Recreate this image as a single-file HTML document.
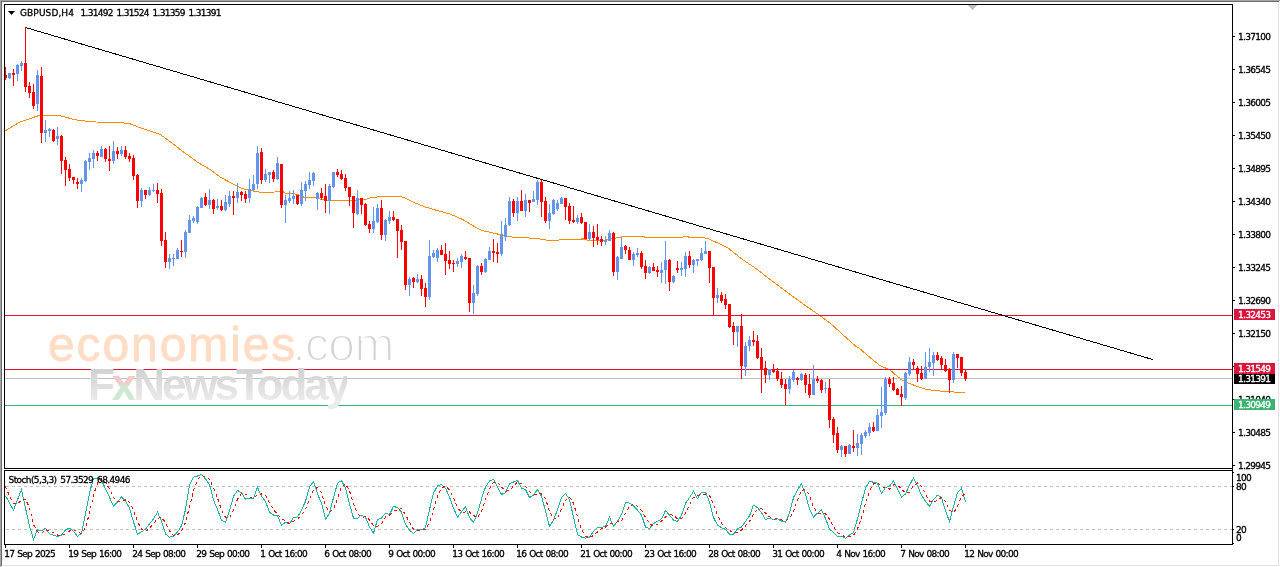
<!DOCTYPE html><html><head><meta charset="utf-8"><title>GBPUSD,H4</title><style>
html,body{margin:0;padding:0;background:#fff}
body{width:1280px;height:567px;position:relative;overflow:hidden;font-family:"DejaVu Sans","Liberation Sans",sans-serif;font-size:9px;line-height:12px;color:#000;letter-spacing:-0.72px}
.t{position:absolute;white-space:pre;height:12px;-webkit-text-stroke:0.3px #000}
.w{color:#fff;-webkit-text-stroke:0.3px #fff}
.bd{position:absolute;background:#a5a5a5}
#wm1{font-family:"Liberation Sans",sans-serif;position:absolute;left:48px;top:317px;font-size:48px;line-height:56px;letter-spacing:1.9px;color:#ffdcc4;white-space:pre;-webkit-text-stroke:0.8px #ffdcc4}
#wm1 span{color:#d4d4d4;-webkit-text-stroke:1.9px #fff;letter-spacing:-0.6px;margin-left:-5px}
#wm2{font-family:"Liberation Sans",sans-serif;position:absolute;left:88px;top:361px;font-size:44px;line-height:48px;font-weight:bold;letter-spacing:-3.05px;white-space:pre;color:transparent;background:linear-gradient(#d2d2d2 20%,#ececec 85%);-webkit-background-clip:text;background-clip:text}
#wm2 i{font-style:normal;background:linear-gradient(#f3c9c9 45%,#cfe8d2 55%);-webkit-background-clip:text;background-clip:text;color:transparent}

</style></head><body>
<div class="bd" style="left:0;top:0;width:1280px;height:1px"></div>
<div class="bd" style="left:0;top:0;width:1px;height:567px"></div>
<div class="bd" style="left:1px;top:1px;width:1278px;height:1px;background:#696969"></div>
<div class="bd" style="left:1px;top:1px;width:1px;height:565px;background:#696969"></div>
<div class="bd" style="left:1278px;top:2px;width:1px;height:564px;background:#e3e3e3"></div>
<div class="bd" style="left:2px;top:565px;width:1277px;height:1px;background:#e3e3e3"></div>
<svg width="1280" height="567" viewBox="0 0 1280 567" style="position:absolute;left:0;top:0" shape-rendering="crispEdges">
<line x1="6" y1="486.5" x2="1232" y2="486.5" stroke="#c0c0c0" stroke-width="1" stroke-dasharray="3 3"/>
<line x1="6" y1="529.5" x2="1232" y2="529.5" stroke="#c0c0c0" stroke-width="1" stroke-dasharray="3 3"/>
<polyline points="5.0,131.0 20.0,122.0 37.5,116.0 42.0,115.4 59.0,115.4 75.0,119.8 85.0,121.0 96.0,122.0 119.0,122.4 130.0,123.8 141.0,128.0 160.0,134.4 168.0,140.0 182.5,151.2 197.5,162.2 210.0,169.4 220.0,176.9 232.5,183.8 240.0,187.5 245.0,189.4 251.0,190.6 260.0,192.2 275.0,192.0 278.0,191.0 282.0,191.0 285.0,193.0 292.0,193.4 300.0,195.2 304.0,197.2 316.0,197.2 322.0,199.8 328.0,200.6 365.0,199.8 371.0,197.8 378.0,196.9 380.0,196.0 399.0,196.0 403.0,197.2 410.0,200.6 412.5,201.9 425.0,206.9 437.5,210.6 450.0,214.0 462.5,219.4 475.0,226.9 482.5,230.6 495.0,233.5 502.5,235.0 512.5,237.2 527.5,237.9 540.0,239.0 548.8,240.4 558.8,240.4 560.0,239.1 585.0,239.0 588.8,240.8 596.0,240.4 606.0,240.0 611.0,239.0 615.0,238.2 620.0,237.5 623.8,236.1 643.8,236.1 645.0,237.5 682.5,237.5 683.8,236.2 687.5,236.2 688.8,237.5 703.0,237.5 707.5,238.5 717.5,242.9 728.8,248.5 741.0,258.5 756.0,268.5 768.8,278.5 787.5,292.5 806.0,306.0 820.0,315.6 831.0,323.8 842.5,334.4 848.8,340.0 855.0,345.6 860.0,348.8 870.0,357.5 880.0,365.6 890.0,370.0 901.0,379.4 910.0,383.8 925.0,389.0 932.5,390.2 947.5,391.9 965.0,392.2" fill="none" stroke="#ff8c00" stroke-width="1"/>
<rect x="5" y="315" width="1227" height="1" fill="#dc143c"/>
<rect x="5" y="369" width="1227" height="1" fill="#dc143c"/>
<rect x="5" y="378" width="1227" height="1" fill="#c0c0c0"/>
<rect x="5" y="405" width="1227" height="1" fill="#3cb371"/>
<line x1="25.5" y1="27.5" x2="1152.6" y2="359.5" stroke="#000" stroke-width="1"/>
<path d="M9 73h1v6h-1zM8 73h3v5h-3zM17 64h1v17h-1zM16 65h3v9h-3zM21 61h1v10h-1zM20 63h3v3h-3zM37 70h1v41h-1zM36 75h3v29h-3zM45 120h1v22h-1zM44 130h3v3h-3zM49 128h1v9h-1zM48 129h3v2h-3zM57 127h1v18h-1zM56 136h3v3h-3zM81 178h1v14h-1zM80 180h3v4h-3zM85 160h1v22h-1zM84 161h3v20h-3zM89 153h1v17h-1zM88 158h3v4h-3zM93 150h1v18h-1zM92 153h3v6h-3zM101 146h1v11h-1zM100 149h3v8h-3zM113 141h1v23h-1zM112 151h3v10h-3zM121 146h1v10h-1zM120 150h3v4h-3zM141 188h1v19h-1zM140 190h3v11h-3zM149 187h1v9h-1zM148 190h3v5h-3zM153 184h1v8h-1zM152 190h3v1h-3zM169 254h1v15h-1zM168 258h3v4h-3zM173 254h1v12h-1zM172 258h3v1h-3zM177 248h1v11h-1zM176 250h3v9h-3zM185 230h1v28h-1zM184 232h3v20h-3zM189 215h1v18h-1zM188 220h3v13h-3zM193 216h1v7h-1zM192 218h3v3h-3zM197 206h1v18h-1zM196 207h3v15h-3zM201 197h1v11h-1zM200 198h3v10h-3zM209 189h1v20h-1zM208 200h3v5h-3zM217 199h1v11h-1zM216 206h3v2h-3zM225 195h1v16h-1zM224 202h3v8h-3zM229 191h1v16h-1zM228 196h3v8h-3zM237 183h1v20h-1zM236 192h3v6h-3zM249 179h1v24h-1zM248 189h3v9h-3zM253 175h1v16h-1zM252 184h3v6h-3zM257 146h1v43h-1zM256 153h3v31h-3zM265 169h1v13h-1zM264 174h3v6h-3zM269 172h1v11h-1zM268 172h3v3h-3zM277 157h1v23h-1zM276 163h3v16h-3zM285 195h1v28h-1zM284 200h3v5h-3zM289 191h1v12h-1zM288 198h3v3h-3zM293 190h1v14h-1zM292 196h3v3h-3zM301 182h1v24h-1zM300 190h3v14h-3zM305 181h1v20h-1zM304 184h3v7h-3zM309 172h1v17h-1zM308 180h3v5h-3zM313 172h1v14h-1zM312 173h3v8h-3zM317 192h1v18h-1zM316 193h3v6h-3zM329 184h1v30h-1zM328 186h3v15h-3zM333 172h1v16h-1zM332 172h3v15h-3zM357 190h1v25h-1zM356 198h3v16h-3zM373 207h1v26h-1zM372 221h3v8h-3zM377 204h1v19h-1zM376 208h3v14h-3zM385 219h1v22h-1zM384 220h3v15h-3zM389 211h1v13h-1zM388 217h3v4h-3zM409 277h1v19h-1zM408 279h3v6h-3zM417 274h1v9h-1zM416 279h3v3h-3zM429 240h1v60h-1zM428 256h3v41h-3zM433 250h1v8h-1zM432 253h3v4h-3zM437 248h1v14h-1zM436 250h3v8h-3zM457 258h1v9h-1zM456 261h3v3h-3zM461 254h1v14h-1zM460 256h3v6h-3zM473 285h1v29h-1zM472 293h3v10h-3zM477 265h1v31h-1zM476 266h3v28h-3zM485 258h1v15h-1zM484 259h3v13h-3zM489 247h1v13h-1zM488 251h3v9h-3zM501 221h1v35h-1zM500 235h3v19h-3zM505 218h1v23h-1zM504 225h3v12h-3zM509 197h1v29h-1zM508 201h3v24h-3zM517 197h1v24h-1zM516 201h3v12h-3zM525 194h1v23h-1zM524 200h3v11h-3zM533 191h1v11h-1zM532 199h3v3h-3zM537 180h1v25h-1zM536 182h3v18h-3zM549 204h1v25h-1zM548 213h3v8h-3zM553 199h1v16h-1zM552 200h3v14h-3zM557 200h1v11h-1zM556 203h3v6h-3zM561 197h1v7h-1zM560 198h3v6h-3zM577 215h1v9h-1zM576 218h3v4h-3zM589 224h1v16h-1zM588 232h3v7h-3zM605 236h1v9h-1zM604 240h3v2h-3zM609 230h1v11h-1zM608 233h3v8h-3zM617 256h1v24h-1zM616 257h3v15h-3zM621 237h1v22h-1zM620 247h3v12h-3zM633 252h1v14h-1zM632 254h3v6h-3zM637 248h1v9h-1zM636 253h3v2h-3zM649 266h1v8h-1zM648 267h3v6h-3zM661 262h1v21h-1zM660 270h3v3h-3zM665 241h1v43h-1zM664 260h3v10h-3zM673 275h1v8h-1zM672 276h3v6h-3zM681 262h1v14h-1zM680 268h3v2h-3zM685 252h1v25h-1zM684 256h3v13h-3zM693 259h1v14h-1zM692 260h3v5h-3zM697 259h1v7h-1zM696 259h3v2h-3zM701 248h1v13h-1zM700 253h3v7h-3zM705 241h1v13h-1zM704 251h3v3h-3zM717 288h1v15h-1zM716 295h3v3h-3zM737 326h1v21h-1zM736 326h3v6h-3zM745 342h1v34h-1zM744 346h3v21h-3zM749 336h1v15h-1zM748 340h3v6h-3zM769 369h1v11h-1zM768 369h3v6h-3zM789 376h1v18h-1zM788 379h3v10h-3zM793 370h1v12h-1zM792 372h3v8h-3zM801 373h1v8h-1zM800 374h3v6h-3zM813 365h1v30h-1zM812 379h3v16h-3zM825 382h1v11h-1zM824 388h3v1h-3zM841 445h1v12h-1zM840 446h3v4h-3zM849 444h1v10h-1zM848 445h3v9h-3zM857 434h1v22h-1zM856 443h3v5h-3zM861 433h1v22h-1zM860 435h3v9h-3zM865 430h1v8h-1zM864 432h3v4h-3zM869 423h1v13h-1zM868 427h3v6h-3zM877 409h1v22h-1zM876 415h3v16h-3zM881 387h1v41h-1zM880 412h3v4h-3zM885 377h1v38h-1zM884 379h3v34h-3zM905 372h1v28h-1zM904 373h3v25h-3zM909 357h1v19h-1zM908 362h3v12h-3zM925 352h1v27h-1zM924 367h3v12h-3zM929 348h1v24h-1zM928 362h3v5h-3zM933 352h1v24h-1zM932 355h3v8h-3zM953 352h1v31h-1zM952 354h3v26h-3z" fill="#6495ed"/>
<path d="M5 67h1v13h-1zM4 75h3v3h-3zM13 69h1v17h-1zM12 73h3v2h-3zM25 27h1v65h-1zM24 63h3v24h-3zM29 82h1v16h-1zM28 86h3v7h-3zM33 84h1v25h-1zM32 92h3v14h-3zM41 67h1v76h-1zM40 76h3v57h-3zM53 129h1v13h-1zM52 130h3v11h-3zM61 135h1v39h-1zM60 136h3v25h-3zM65 157h1v29h-1zM64 160h3v10h-3zM69 164h1v17h-1zM68 169h3v9h-3zM73 177h1v7h-1zM72 177h3v3h-3zM77 178h1v11h-1zM76 182h3v2h-3zM97 151h1v10h-1zM96 153h3v3h-3zM105 148h1v14h-1zM104 149h3v10h-3zM109 146h1v25h-1zM108 159h3v2h-3zM117 147h1v12h-1zM116 151h3v3h-3zM125 146h1v13h-1zM124 150h3v7h-3zM129 153h1v9h-1zM128 156h3v3h-3zM133 155h1v25h-1zM132 158h3v18h-3zM137 174h1v34h-1zM136 175h3v26h-3zM145 190h1v9h-1zM144 190h3v5h-3zM157 183h1v20h-1zM156 190h3v4h-3zM161 189h1v57h-1zM160 193h3v48h-3zM165 232h1v36h-1zM164 240h3v22h-3zM181 240h1v17h-1zM180 251h3v1h-3zM205 193h1v13h-1zM204 197h3v8h-3zM213 199h1v15h-1zM212 200h3v9h-3zM221 200h1v11h-1zM220 206h3v4h-3zM233 191h1v24h-1zM232 196h3v2h-3zM241 191h1v10h-1zM240 192h3v3h-3zM245 191h1v12h-1zM244 194h3v5h-3zM261 148h1v36h-1zM260 152h3v28h-3zM273 170h1v12h-1zM272 172h3v7h-3zM281 164h1v44h-1zM280 164h3v41h-3zM297 195h1v10h-1zM296 195h3v9h-3zM321 188h1v12h-1zM320 193h3v5h-3zM325 184h1v29h-1zM324 196h3v5h-3zM337 169h1v8h-1zM336 172h3v3h-3zM341 170h1v10h-1zM340 174h3v5h-3zM345 174h1v17h-1zM344 178h3v10h-3zM349 187h1v19h-1zM348 187h3v10h-3zM353 196h1v32h-1zM352 196h3v17h-3zM361 198h1v16h-1zM360 198h3v7h-3zM365 203h1v23h-1zM364 204h3v21h-3zM369 221h1v12h-1zM368 224h3v5h-3zM381 200h1v40h-1zM380 208h3v27h-3zM393 211h1v10h-1zM392 217h3v3h-3zM397 219h1v39h-1zM396 219h3v12h-3zM401 225h1v25h-1zM400 230h3v12h-3zM405 241h1v49h-1zM404 241h3v44h-3zM413 277h1v11h-1zM412 278h3v4h-3zM421 275h1v21h-1zM420 279h3v10h-3zM425 283h1v24h-1zM424 288h3v9h-3zM441 245h1v10h-1zM440 250h3v5h-3zM445 243h1v32h-1zM444 254h3v7h-3zM449 251h1v18h-1zM448 260h3v4h-3zM453 260h1v12h-1zM452 263h3v1h-3zM465 251h1v9h-1zM464 257h3v2h-3zM469 258h1v54h-1zM468 258h3v45h-3zM481 263h1v12h-1zM480 266h3v6h-3zM493 239h1v23h-1zM492 251h3v2h-3zM497 243h1v20h-1zM496 252h3v2h-3zM513 199h1v18h-1zM512 201h3v12h-3zM521 190h1v21h-1zM520 201h3v10h-3zM529 200h1v12h-1zM528 200h3v3h-3zM541 180h1v37h-1zM540 182h3v20h-3zM545 197h1v26h-1zM544 201h3v20h-3zM565 198h1v22h-1zM564 198h3v9h-3zM569 203h1v21h-1zM568 206h3v15h-3zM573 206h1v17h-1zM572 220h3v2h-3zM581 213h1v11h-1zM580 217h3v6h-3zM585 222h1v17h-1zM584 222h3v17h-3zM593 226h1v21h-1zM592 232h3v6h-3zM597 224h1v21h-1zM596 237h3v3h-3zM601 236h1v10h-1zM600 239h3v3h-3zM613 232h1v44h-1zM612 233h3v39h-3zM625 245h1v9h-1zM624 246h3v4h-3zM629 247h1v13h-1zM628 250h3v10h-3zM641 251h1v18h-1zM640 253h3v14h-3zM645 260h1v19h-1zM644 266h3v7h-3zM653 263h1v8h-1zM652 267h3v4h-3zM657 266h1v11h-1zM656 270h3v2h-3zM669 259h1v32h-1zM668 260h3v22h-3zM677 261h1v12h-1zM676 268h3v2h-3zM689 251h1v17h-1zM688 256h3v9h-3zM709 251h1v32h-1zM708 251h3v17h-3zM713 267h1v48h-1zM712 267h3v31h-3zM721 292h1v11h-1zM720 295h3v6h-3zM725 294h1v15h-1zM724 299h3v6h-3zM729 304h1v24h-1zM728 304h3v23h-3zM733 322h1v23h-1zM732 326h3v6h-3zM741 314h1v65h-1zM740 326h3v40h-3zM753 331h1v15h-1zM752 340h3v2h-3zM757 335h1v24h-1zM756 341h3v17h-3zM761 348h1v45h-1zM760 357h3v12h-3zM765 361h1v22h-1zM764 368h3v7h-3zM773 364h1v9h-1zM772 369h3v3h-3zM777 368h1v13h-1zM776 371h3v8h-3zM781 372h1v16h-1zM780 379h3v6h-3zM785 379h1v26h-1zM784 384h3v5h-3zM797 377h1v8h-1zM796 378h3v2h-3zM805 373h1v20h-1zM804 375h3v10h-3zM809 374h1v24h-1zM808 384h3v11h-3zM817 376h1v7h-1zM816 379h3v2h-3zM821 379h1v14h-1zM820 380h3v10h-3zM829 379h1v49h-1zM828 388h3v32h-3zM833 417h1v26h-1zM832 419h3v16h-3zM837 427h1v26h-1zM836 433h3v17h-3zM845 446h1v11h-1zM844 446h3v8h-3zM853 430h1v22h-1zM852 446h3v2h-3zM873 422h1v10h-1zM872 427h3v4h-3zM889 377h1v10h-1zM888 379h3v5h-3zM893 377h1v14h-1zM892 383h3v7h-3zM897 388h1v7h-1zM896 389h3v6h-3zM901 386h1v20h-1zM900 394h3v3h-3zM913 359h1v10h-1zM912 362h3v3h-3zM917 366h1v16h-1zM916 368h3v6h-3zM921 366h1v14h-1zM920 373h3v6h-3zM937 352h1v9h-1zM936 355h3v5h-3zM941 356h1v13h-1zM940 358h3v7h-3zM945 359h1v13h-1zM944 365h3v6h-3zM949 368h1v25h-1zM948 369h3v11h-3zM957 354h1v14h-1zM956 354h3v4h-3zM961 357h1v19h-1zM960 357h3v16h-3zM965 370h1v11h-1zM964 372h3v7h-3z" fill="#ff0000"/>
<polyline points="5.5,495.8 9.5,503.0 13.5,510.1 17.5,499.8 21.5,489.5 25.5,508.2 29.5,525.8 33.5,539.5 37.5,529.8 41.5,530.8 45.5,528.5 49.5,533.9 53.5,535.1 57.5,536.4 61.5,535.1 65.5,529.8 69.5,528.2 73.5,531.4 77.5,536.4 81.5,533.2 85.5,513.2 89.5,493.2 93.5,478.2 97.5,478.0 101.5,480.1 105.5,488.8 109.5,497.4 113.5,506.0 117.5,502.0 121.5,497.0 125.5,501.0 129.5,508.2 133.5,522.0 137.5,534.1 141.5,531.8 145.5,529.2 149.5,523.9 153.5,518.9 157.5,512.2 161.5,521.4 165.5,533.9 169.5,537.2 173.5,536.0 177.5,532.0 181.5,525.8 185.5,509.5 189.5,485.1 193.5,477.2 197.5,476.0 201.5,474.2 205.5,478.9 209.5,484.5 213.5,500.1 217.5,509.5 221.5,520.1 225.5,522.2 229.5,510.8 233.5,496.4 237.5,490.5 241.5,492.6 245.5,499.2 249.5,498.2 253.5,498.2 257.5,487.2 261.5,496.4 265.5,501.4 269.5,512.2 273.5,515.1 277.5,515.8 281.5,525.1 285.5,522.2 289.5,523.9 293.5,517.2 297.5,517.0 301.5,510.1 305.5,501.4 309.5,487.0 313.5,481.4 317.5,493.9 321.5,503.2 325.5,519.2 329.5,513.2 333.5,497.6 337.5,483.2 341.5,480.5 345.5,488.2 349.5,503.9 353.5,518.2 357.5,518.2 361.5,515.1 365.5,517.2 369.5,527.0 373.5,533.2 377.5,519.5 381.5,518.0 385.5,513.2 389.5,514.5 393.5,506.4 397.5,507.6 401.5,512.0 405.5,524.5 409.5,530.1 413.5,533.2 417.5,529.5 421.5,529.8 425.5,527.6 429.5,509.5 433.5,493.2 437.5,485.8 441.5,484.5 445.5,488.2 449.5,497.0 453.5,508.2 457.5,517.2 461.5,512.0 465.5,506.4 469.5,517.6 473.5,522.2 477.5,513.2 481.5,498.9 485.5,487.0 489.5,481.0 493.5,479.2 497.5,487.0 501.5,494.5 505.5,492.6 509.5,483.9 513.5,482.0 517.5,480.5 521.5,488.2 525.5,489.5 529.5,497.6 533.5,495.1 537.5,489.5 541.5,496.4 545.5,510.8 549.5,526.4 553.5,520.1 557.5,509.5 561.5,497.6 565.5,493.5 569.5,499.5 573.5,517.0 577.5,534.5 581.5,537.0 585.5,538.2 589.5,537.0 593.5,531.4 597.5,527.2 601.5,527.2 605.5,526.8 609.5,517.2 613.5,526.4 617.5,521.4 621.5,514.5 625.5,502.2 629.5,503.2 633.5,505.8 637.5,510.1 641.5,515.1 645.5,527.0 649.5,528.5 653.5,523.5 657.5,521.4 661.5,518.9 665.5,510.5 669.5,515.1 673.5,520.1 677.5,521.4 681.5,515.1 685.5,503.2 689.5,497.6 693.5,491.4 697.5,498.5 701.5,492.2 705.5,492.2 709.5,502.0 713.5,517.6 717.5,525.1 721.5,527.6 725.5,529.5 729.5,534.2 733.5,534.2 737.5,528.9 741.5,527.0 745.5,521.4 749.5,515.8 753.5,505.1 757.5,507.6 761.5,512.6 765.5,519.5 769.5,518.2 773.5,519.5 777.5,518.9 781.5,521.0 785.5,522.2 789.5,513.2 793.5,497.6 797.5,490.1 801.5,483.5 805.5,494.5 809.5,508.9 813.5,517.0 817.5,513.2 821.5,510.1 825.5,518.5 829.5,528.9 833.5,532.6 837.5,536.4 841.5,536.4 845.5,538.2 849.5,535.1 853.5,532.6 857.5,518.9 861.5,503.2 865.5,488.2 869.5,481.4 873.5,482.2 877.5,483.2 881.5,493.5 885.5,487.6 889.5,486.0 893.5,481.0 897.5,488.9 901.5,497.2 905.5,493.9 909.5,485.1 913.5,478.0 917.5,485.8 921.5,495.1 925.5,501.4 929.5,506.4 933.5,499.5 937.5,495.1 941.5,497.6 945.5,510.8 949.5,521.4 953.5,506.4 957.5,492.6 961.5,488.2 965.5,501.8" fill="none" stroke="#20b2aa" stroke-width="1"/>
<polyline points="5.5,486.5 9.5,496.2 13.5,503.0 17.5,504.3 21.5,499.8 25.5,499.2 29.5,507.8 33.5,524.5 37.5,531.7 41.5,533.3 45.5,529.7 49.5,531.0 53.5,532.5 57.5,535.1 61.5,535.5 65.5,533.8 69.5,531.0 73.5,529.8 77.5,532.0 81.5,533.7 85.5,527.6 89.5,513.2 93.5,494.9 97.5,483.2 101.5,478.8 105.5,482.3 109.5,488.8 113.5,497.4 117.5,501.8 121.5,501.7 125.5,500.0 129.5,502.1 133.5,510.4 137.5,521.5 141.5,529.3 145.5,531.7 149.5,528.3 153.5,524.0 157.5,518.3 161.5,517.5 165.5,522.5 169.5,530.8 173.5,535.7 177.5,535.1 181.5,531.2 185.5,522.4 189.5,506.8 193.5,490.6 197.5,479.5 201.5,475.8 205.5,476.4 209.5,479.2 213.5,487.8 217.5,498.0 221.5,509.9 225.5,517.3 229.5,517.7 233.5,509.8 237.5,499.2 241.5,493.2 245.5,494.1 249.5,496.7 253.5,498.6 257.5,494.6 261.5,494.0 265.5,495.0 269.5,503.3 273.5,509.6 277.5,514.4 281.5,518.7 285.5,521.0 289.5,523.8 293.5,521.1 297.5,519.4 301.5,514.8 305.5,509.5 309.5,499.5 313.5,489.9 317.5,487.4 321.5,492.8 325.5,505.5 329.5,511.9 333.5,510.0 337.5,498.0 341.5,487.1 345.5,484.0 349.5,490.9 353.5,503.5 357.5,513.5 361.5,517.2 365.5,516.9 369.5,519.8 373.5,525.8 377.5,526.6 381.5,523.6 385.5,516.9 389.5,515.2 393.5,511.4 397.5,509.5 401.5,508.7 405.5,514.7 409.5,522.2 413.5,529.3 417.5,531.0 421.5,530.8 425.5,529.0 429.5,522.3 433.5,510.1 437.5,496.2 441.5,487.8 445.5,486.2 449.5,489.9 453.5,497.8 457.5,507.5 461.5,512.5 465.5,511.9 469.5,512.0 473.5,515.4 477.5,517.7 481.5,511.5 485.5,499.7 489.5,489.0 493.5,482.4 497.5,482.4 501.5,486.9 505.5,491.4 509.5,490.3 513.5,486.2 517.5,482.1 521.5,483.6 525.5,486.1 529.5,491.8 533.5,494.1 537.5,494.1 541.5,493.7 545.5,498.9 549.5,511.2 553.5,519.1 557.5,518.7 561.5,509.1 565.5,500.2 569.5,496.9 573.5,503.3 577.5,517.0 581.5,529.5 585.5,536.6 589.5,537.4 593.5,535.5 597.5,531.9 601.5,528.6 605.5,527.1 609.5,523.8 613.5,523.5 617.5,521.7 621.5,520.8 625.5,512.7 629.5,506.7 633.5,503.8 637.5,506.4 641.5,510.3 645.5,517.4 649.5,523.5 653.5,526.3 657.5,524.5 661.5,521.2 665.5,516.9 669.5,514.8 673.5,515.2 677.5,518.9 681.5,518.9 685.5,513.2 689.5,505.3 693.5,497.4 697.5,495.8 701.5,494.0 705.5,494.3 709.5,495.5 713.5,504.0 717.5,514.9 721.5,523.5 725.5,527.4 729.5,530.5 733.5,532.7 737.5,532.5 741.5,530.0 745.5,525.8 749.5,521.4 753.5,514.1 757.5,509.5 761.5,508.5 765.5,513.2 769.5,516.8 773.5,519.1 777.5,518.9 781.5,519.8 785.5,520.7 789.5,518.8 793.5,511.0 797.5,500.3 801.5,490.4 805.5,489.4 809.5,495.6 813.5,506.8 817.5,513.0 821.5,513.5 825.5,514.0 829.5,519.2 833.5,526.7 837.5,532.6 841.5,535.1 845.5,537.0 849.5,536.6 853.5,535.3 857.5,528.9 861.5,518.2 865.5,503.5 869.5,491.0 873.5,484.0 877.5,482.3 881.5,486.3 885.5,488.1 889.5,489.0 893.5,484.9 897.5,485.3 901.5,489.0 905.5,493.3 909.5,492.1 913.5,485.7 917.5,483.0 921.5,486.3 925.5,494.1 929.5,501.0 933.5,502.4 937.5,500.3 941.5,497.4 945.5,501.2 949.5,509.9 953.5,512.8 957.5,506.8 961.5,495.8 965.5,494.2" fill="none" stroke="#ff0000" stroke-width="1" stroke-dasharray="3 3"/>
<rect x="4" y="4" width="1229" height="1" fill="#000"/>
<rect x="4" y="4" width="1" height="465" fill="#000"/>
<rect x="1232" y="4" width="1" height="541" fill="#000"/>
<rect x="4" y="468" width="1229" height="1" fill="#000"/>
<rect x="4" y="470" width="1229" height="1" fill="#000"/>
<rect x="4" y="470" width="1" height="75" fill="#000"/>
<rect x="4" y="544" width="1229" height="1" fill="#000"/>
<rect x="1233" y="36" width="2" height="1" fill="#000"/>
<rect x="1233" y="69" width="2" height="1" fill="#000"/>
<rect x="1233" y="102" width="2" height="1" fill="#000"/>
<rect x="1233" y="135" width="2" height="1" fill="#000"/>
<rect x="1233" y="168" width="2" height="1" fill="#000"/>
<rect x="1233" y="201" width="2" height="1" fill="#000"/>
<rect x="1233" y="234" width="2" height="1" fill="#000"/>
<rect x="1233" y="267" width="2" height="1" fill="#000"/>
<rect x="1233" y="300" width="2" height="1" fill="#000"/>
<rect x="1233" y="333" width="2" height="1" fill="#000"/>
<rect x="1233" y="366" width="2" height="1" fill="#000"/>
<rect x="1233" y="399" width="2" height="1" fill="#000"/>
<rect x="1233" y="432" width="2" height="1" fill="#000"/>
<rect x="1233" y="465" width="2" height="1" fill="#000"/>
<rect x="1233" y="472" width="1" height="1" fill="#000"/>
<rect x="1233" y="486" width="1" height="1" fill="#000"/>
<rect x="1233" y="529" width="1" height="1" fill="#000"/>
<rect x="1233" y="543" width="1" height="1" fill="#000"/>
<rect x="5" y="545" width="1" height="3" fill="#000"/>
<rect x="69" y="545" width="1" height="3" fill="#000"/>
<rect x="133" y="545" width="1" height="3" fill="#000"/>
<rect x="197" y="545" width="1" height="3" fill="#000"/>
<rect x="261" y="545" width="1" height="3" fill="#000"/>
<rect x="325" y="545" width="1" height="3" fill="#000"/>
<rect x="389" y="545" width="1" height="3" fill="#000"/>
<rect x="453" y="545" width="1" height="3" fill="#000"/>
<rect x="517" y="545" width="1" height="3" fill="#000"/>
<rect x="581" y="545" width="1" height="3" fill="#000"/>
<rect x="645" y="545" width="1" height="3" fill="#000"/>
<rect x="709" y="545" width="1" height="3" fill="#000"/>
<rect x="773" y="545" width="1" height="3" fill="#000"/>
<rect x="837" y="545" width="1" height="3" fill="#000"/>
<rect x="901" y="545" width="1" height="3" fill="#000"/>
<rect x="965" y="545" width="1" height="3" fill="#000"/>
<rect x="968" y="5" width="9" height="1" fill="#c0c0c0"/>
<rect x="969" y="6" width="7" height="1" fill="#c0c0c0"/>
<rect x="970" y="7" width="5" height="1" fill="#c0c0c0"/>
<rect x="971" y="8" width="3" height="1" fill="#c0c0c0"/>
<rect x="972" y="9" width="1" height="1" fill="#c0c0c0"/>
<path d="M8 11h7l-3.5 4z" fill="#000" shape-rendering="auto"/>
</svg>
<div id="wm1">economies<span>.com</span></div>
<div id="wm2">F<i>x</i>NewsToday</div>
<div class="t" style="left:1238px;top:31px;">1.37100</div>
<div class="t" style="left:1238px;top:64px;">1.36545</div>
<div class="t" style="left:1238px;top:97px;">1.36005</div>
<div class="t" style="left:1238px;top:130px;">1.35450</div>
<div class="t" style="left:1238px;top:163px;">1.34895</div>
<div class="t" style="left:1238px;top:196px;">1.34340</div>
<div class="t" style="left:1238px;top:229px;">1.33800</div>
<div class="t" style="left:1238px;top:262px;">1.33245</div>
<div class="t" style="left:1238px;top:295px;">1.32690</div>
<div class="t" style="left:1238px;top:328px;">1.32150</div>
<div class="t" style="left:1238px;top:362px;">1.31595</div>
<div class="t" style="left:1238px;top:394px;">1.31040</div>
<div class="t" style="left:1238px;top:427px;">1.30485</div>
<div class="t" style="left:1238px;top:460px;">1.29945</div>
<div class="t" style="left:1236px;top:472px;">100</div>
<div class="t" style="left:1236px;top:481px;">80</div>
<div class="t" style="left:1236px;top:524px;">20</div>
<div class="t" style="left:1236px;top:532px;">0</div>
<div class="t" style="left:4.3px;top:548px;word-spacing:0.8px">17 Sep 2025</div>
<div class="t" style="left:68.3px;top:548px;word-spacing:0.8px">19 Sep 16:00</div>
<div class="t" style="left:132.3px;top:548px;word-spacing:0.8px">24 Sep 08:00</div>
<div class="t" style="left:196.3px;top:548px;word-spacing:0.8px">29 Sep 00:00</div>
<div class="t" style="left:260.3px;top:548px;word-spacing:0.8px">1 Oct 16:00</div>
<div class="t" style="left:324.3px;top:548px;word-spacing:0.8px">6 Oct 08:00</div>
<div class="t" style="left:388.3px;top:548px;word-spacing:0.8px">9 Oct 00:00</div>
<div class="t" style="left:452.3px;top:548px;word-spacing:0.8px">13 Oct 16:00</div>
<div class="t" style="left:516.3px;top:548px;word-spacing:0.8px">16 Oct 08:00</div>
<div class="t" style="left:580.3px;top:548px;word-spacing:0.8px">21 Oct 00:00</div>
<div class="t" style="left:644.3px;top:548px;word-spacing:0.8px">23 Oct 16:00</div>
<div class="t" style="left:708.3px;top:548px;word-spacing:0.8px">28 Oct 08:00</div>
<div class="t" style="left:772.3px;top:548px;word-spacing:0.8px">31 Oct 00:00</div>
<div class="t" style="left:836.3px;top:548px;word-spacing:0.8px">4 Nov 16:00</div>
<div class="t" style="left:900.3px;top:548px;word-spacing:0.8px">7 Nov 08:00</div>
<div class="t" style="left:964.3px;top:548px;word-spacing:0.8px">12 Nov 00:00</div>
<div class="t" style="left:20px;top:7px;letter-spacing:0.1px">GBPUSD,H4</div>
<div class="t" style="left:80.5px;top:7px;">1.31492</div>
<div class="t" style="left:116.5px;top:7px;">1.31524</div>
<div class="t" style="left:152.5px;top:7px;">1.31359</div>
<div class="t" style="left:188.5px;top:7px;">1.31391</div>
<div class="t" style="left:8.6px;top:474px;word-spacing:1.6px;letter-spacing:-0.62px">Stoch(5,3,3) 57.3529 68.4946</div>
<div style="position:absolute;left:1234px;top:309px;width:41px;height:11px;background:#dc143c"></div>
<div style="position:absolute;left:1234px;top:374px;width:41px;height:10px;background:#000"></div>
<div style="position:absolute;left:1234px;top:363px;width:41px;height:11px;background:#dc143c"></div>
<div style="position:absolute;left:1234px;top:399px;width:41px;height:11px;background:#3cb371"></div>
<div class="t w" style="left:1238px;top:309px;">1.32453</div>
<div class="t w" style="left:1238px;top:363px;">1.31549</div>
<div class="t w" style="left:1238px;top:373px;">1.31391</div>
<div class="t w" style="left:1238px;top:399px;">1.30949</div>
</body></html>
